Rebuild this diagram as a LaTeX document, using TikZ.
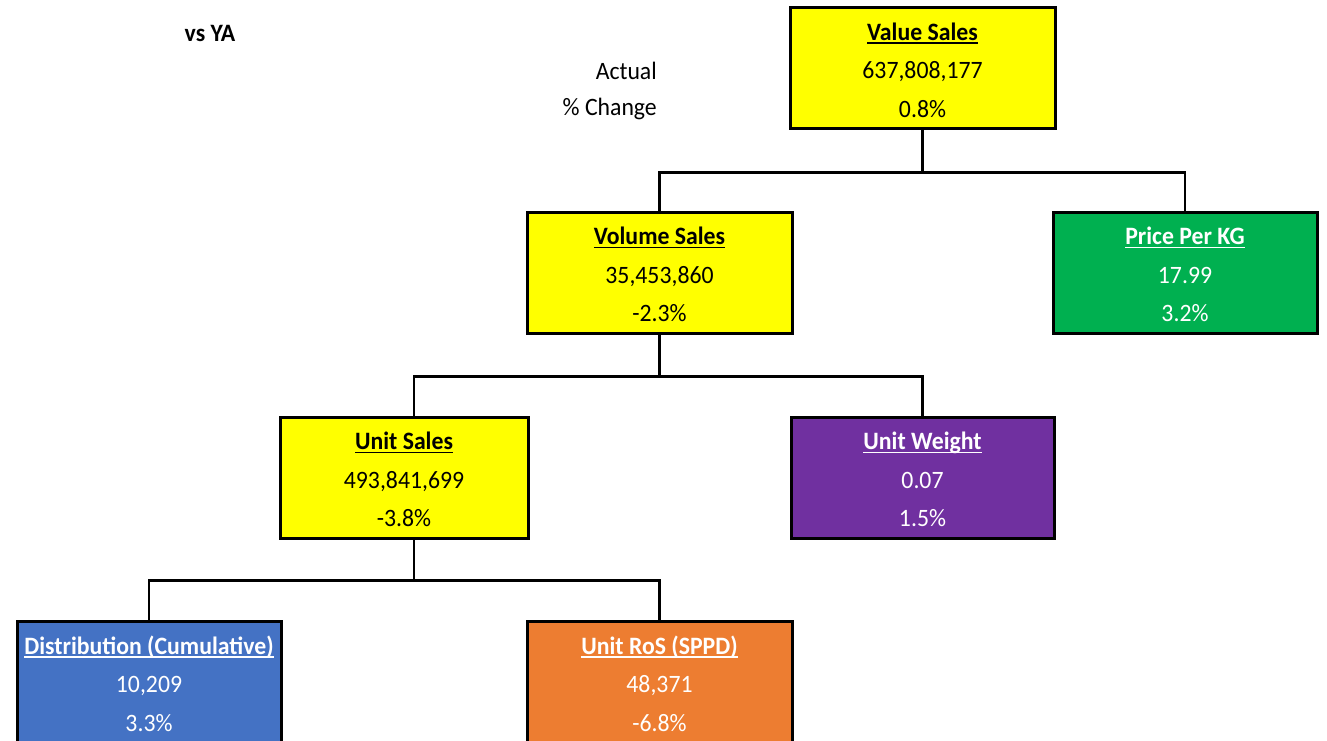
\documentclass[tikz,border=0pt]{standalone}
\usepackage{fontspec}
\setmainfont{Carlito}[FakeStretch=0.95]
\usetikzlibrary{calc}
\definecolor{kyellow}{HTML}{FFFF00}
\definecolor{kgreen}{HTML}{00B050}
\definecolor{kpurple}{HTML}{7030A0}
\definecolor{kblue}{HTML}{4472C4}
\definecolor{korange}{HTML}{ED7D31}
\newcommand\ulin[1]{\setbox0\hbox{#1}\rlap{\rule[-3.5pt]{\wd0}{1.6pt}}\box0}
\begin{document}
\begin{tikzpicture}[x=1pt,y=-1pt,
  kpi/.style={draw=black, line width=3pt, minimum width=265pt, minimum height=121pt,
    align=center, inner sep=0pt, text depth=0pt, font=\fontsize{25}{38.5}\selectfont},
  txt/.style={yshift=-2pt},
  link/.style={line width=2.5pt, draw=black},
  lbl/.style={inner sep=0pt, font=\fontsize{25}{28}\selectfont}]
\useasboundingbox (0,0) rectangle (1327,741);
\fill[white] (0,0) rectangle (1327,741);

\node[lbl, font=\fontsize{25}{28}\selectfont\bfseries] (vsya) at (210,33) {vs YA};
\node[lbl, anchor=east] (actual) at (657,71) {Actual};
\node[lbl, anchor=east] (pchg) at (657,109) {\% Change};

\node[kpi, fill=kyellow] (val) at (922.5,68) {};
\node[kpi, fill=kyellow] (vol) at (659.5,272.5) {};
\node[kpi, fill=kgreen, minimum width=264pt] (ppk) at (1185,272.5) {};
\node[kpi, fill=kyellow, minimum width=248pt] (us) at (404,477.5) {};
\node[kpi, fill=kpurple, minimum width=263pt] (uw) at (922.5,477.5) {};
\node[kpi, fill=kblue, minimum width=264pt] (dist) at (149,681.5) {};
\node[kpi, fill=korange] (ros) at (659.5,681.5) {};

\node[kpi, draw=none, txt] (valt) at (val) {\ulin{\textbf{Value Sales}}\\637,808,177\\0.8\%};
\node[kpi, draw=none, txt] (volt) at (vol) {\ulin{\textbf{Volume Sales}}\\35,453,860\\-2.3\%};
\node[kpi, draw=none, txt, text=white] (ppkt) at (ppk) {\ulin{\textbf{Price Per KG}}\\17.99\\3.2\%};
\node[kpi, draw=none, txt] (ust) at (us) {\ulin{\textbf{Unit Sales}}\\493,841,699\\-3.8\%};
\node[kpi, draw=none, txt, text=white] (uwt) at (uw) {\ulin{\textbf{Unit Weight}}\\0.07\\1.5\%};
\node[kpi, draw=none, txt, text=white] (distt) at (dist) {\ulin{\textbf{Distribution (Cumulative)}}\\10,209\\3.3\%};
\node[kpi, draw=none, txt, text=white] (rost) at (ros) {\ulin{\textbf{Unit RoS (SPPD)}}\\48,371\\-6.8\%};

\draw[link] (val.south) -- ++(0,42.5) -| (vol.north);
\draw[link] (val.south) -- ++(0,42.5) -| (ppk.north);
\draw[link] (vol.south) -- ++(0,42) -| ($(us.north)+(10,0)$);
\draw[link] (vol.south) -- ++(0,42) -| (uw.north);
\draw[link] ($(us.south)+(10,0)$) -- ++(0,41) -| (dist.north);
\draw[link] ($(us.south)+(10,0)$) -- ++(0,41) -| (ros.north);
\end{tikzpicture}
\end{document}
